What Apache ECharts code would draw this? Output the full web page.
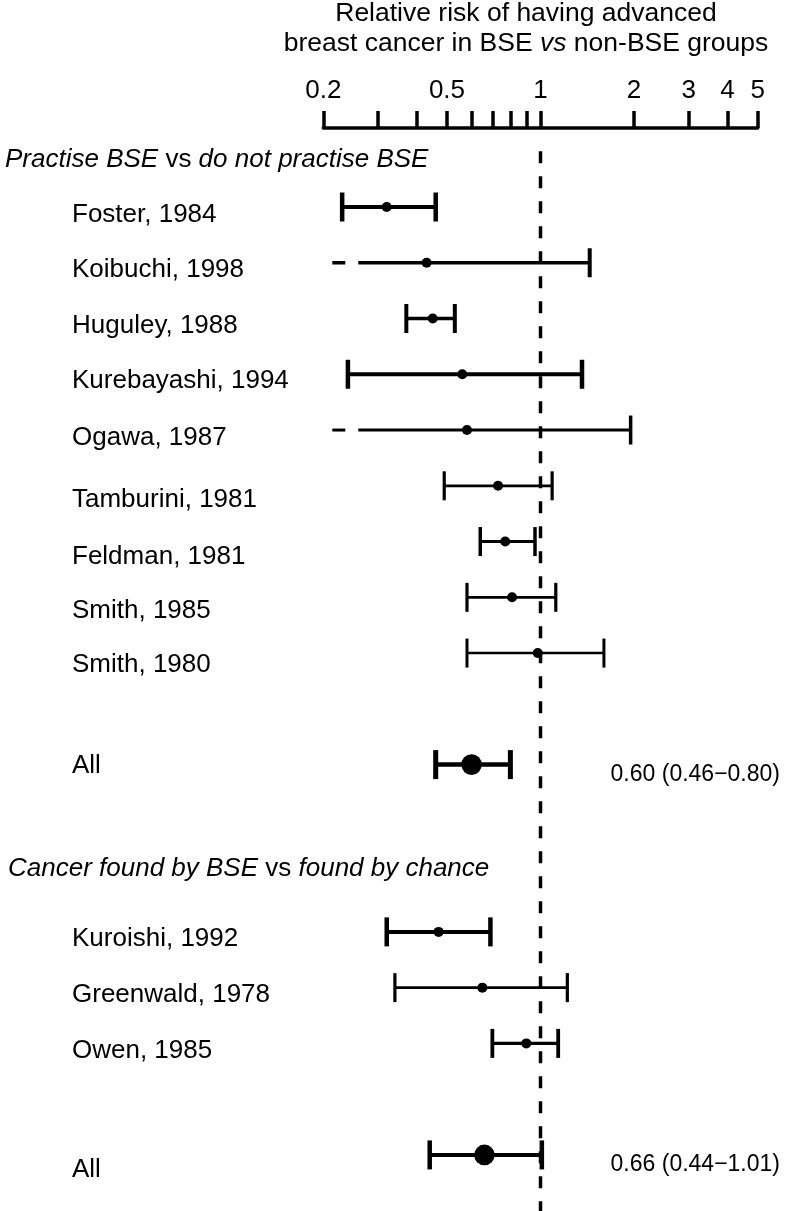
<!DOCTYPE html>
<html>
<head>
<meta charset="utf-8">
<script src="https://cdn.jsdelivr.net/npm/echarts@6/dist/echarts.min.js"></script>
<style>
html, body { margin: 0; padding: 0; background: #fff; }
#chart { width: 788px; height: 1211px; }
</style>
</head>
<body>
<div id="chart"></div>
<script>
// rows top to bottom, headings and blank spacer rows included
const categories = [
  "Practise BSE vs do not practise BSE",
  "Foster, 1984", "Koibuchi, 1998", "Huguley, 1988", "Kurebayashi, 1994", "Ogawa, 1987",
  "Tamburini, 1981", "Feldman, 1981", "Smith, 1985", "Smith, 1980",
  "", "All", "",
  "Cancer found by BSE vs found by chance",
  "Kuroishi, 1992", "Greenwald, 1978", "Owen, 1985",
  "", "All"
];
// relative risk and 95% CI (lower values under 0.2 run off the scale)
const estimate = [null, 0.32, 0.43, 0.45, 0.56, 0.58, 0.73, 0.77, 0.81, 0.98, null, 0.60, null, null, 0.47, 0.65, 0.90, null, 0.66];
const lower    = [null, 0.23, 0.15, 0.37, 0.24, 0.15, 0.49, 0.64, 0.58, 0.58, null, 0.46, null, null, 0.32, 0.34, 0.70, null, 0.44];
const upper    = [null, 0.46, 1.44, 0.53, 1.36, 1.95, 1.09, 0.96, 1.12, 1.60, null, 0.80, null, null, 0.69, 1.22, 1.14, null, 1.01];
const pooledRows = [11, 18];
const refValue = 1;
const tickValues = [0.2, 0.3, 0.4, 0.5, 0.6, 0.7, 0.8, 0.9, 1, 2, 3, 4, 5];
const tickLabels = [0.2, 0.5, 1, 2, 3, 4, 5];

// drawing style
const FONT = "'Liberation Sans', Arial, Helvetica, sans-serif";
const penWidth = [0, 4, 3.5, 3.5, 4, 3, 2.7, 3, 2.7, 2.5, 0, 4.5, 0, 0, 4, 2.7, 3.3, 0, 4];
const labelShift = [9, 8, 7, 7, 7, 8, 14, 15, 14, 12, 0, 1, 0, -7, 7, 7, 7, 0, 15];
const axisMin = 0.2, axisMax = 5;

const rich = {};
categories.forEach(function (c, i) {
  const s = labelShift[i];
  const pad = s >= 0 ? [2 * s, 0, 0, 0] : [0, 0, -2 * s, 0];
  const base = { fontFamily: FONT, fontSize: 26, color: '#000' };
  rich['a' + i] = Object.assign({}, base, { fontStyle: 'italic', padding: [pad[0], 0, pad[2], i === 0 ? 0 : 3] });
  rich['b' + i] = Object.assign({}, base, { padding: [pad[0], 0, pad[2], 0] });
  rich['c' + i] = Object.assign({}, base, { fontStyle: 'italic', padding: [pad[0], 0, pad[2], 0] });
  rich['r' + i] = Object.assign({}, base, { padding: [pad[0], 0, pad[2], 67] });
});

const rowData = [];
estimate.forEach(function (v, i) {
  if (v == null) return;
  rowData.push([v, i, lower[i], upper[i], pooledRows.indexOf(i) >= 0 ? 1 : 0]);
});

function seg(x1, y1, x2, y2, w) {
  return { type: 'line', shape: { x1: x1, y1: y1, x2: x2, y2: y2 }, style: { stroke: '#000', lineWidth: w, lineCap: 'butt' } };
}

const chart = echarts.init(document.getElementById('chart'));
chart.setOption({
  animation: false,
  backgroundColor: '#fff',
  grid: { left: 323.3, right: 30.3, top: 123.36, height: 55.76 * categories.length, containLabel: false },
  graphic: [{
    type: 'text', x: 526, y: 29,
    style: {
      text: '{t|Relative risk of having advanced}\n{t|breast cancer in BSE }{v|vs}{t| non-BSE groups}',
      align: 'center', verticalAlign: 'middle',
      rich: {
        t: { fontFamily: FONT, fontSize: 26.5, lineHeight: 30, fill: '#000' },
        v: { fontFamily: FONT, fontSize: 26.5, lineHeight: 30, fontStyle: 'italic', fill: '#000' }
      }
    }
  }],
  xAxis: {
    type: 'log', logBase: 10, min: axisMin, max: axisMax,
    position: 'top', offset: -4.64,
    axisLine: { show: true, lineStyle: { color: '#000', width: 3.5 } },
    axisTick: { show: true, customValues: tickValues, length: 17, lineStyle: { color: '#000', width: 3.5 } },
    axisLabel: {
      customValues: tickLabels, margin: 24,
      fontFamily: FONT, fontSize: 26, color: '#000',
      formatter: function (v) { return String(+Number(v).toPrecision(3)); }
    },
    splitLine: { show: false }
  },
  yAxis: {
    type: 'category', inverse: true, data: categories,
    axisLine: { show: false }, axisTick: { show: false }, splitLine: { show: false },
    axisLabel: {
      interval: 0, align: 'left', margin: 318.3,
      formatter: function (value, index) {
        if (!value) return '';
        if (value.indexOf(' vs ') >= 0) {
          const p = value.split(' vs ');
          return '{a' + index + '|' + p[0] + '}{b' + index + '| vs }{c' + index + '|' + p[1] + '}';
        }
        return '{r' + index + '|' + value + '}';
      },
      rich: rich
    }
  },
  series: [
    {
      type: 'custom', silent: true, z: 1,
      data: [[refValue, 0]], encode: { x: 0, y: 1 },
      renderItem: function (params, api) {
        const p = api.coord([api.value(0), api.value(1)]);
        return {
          type: 'line',
          shape: { x1: p[0], y1: p[1], x2: p[0], y2: api.getHeight() },
          style: { stroke: '#000', lineWidth: 3.5, lineDash: [12, 13] }
        };
      }
    },
    {
      type: 'custom', silent: true, z: 2,
      data: rowData, encode: { x: 0, y: 1 },
      renderItem: function (params, api) {
        const idx = api.value(1);
        const est = api.value(0), lo = api.value(2), hi = api.value(3);
        const isPooled = api.value(4) === 1;
        const pe = api.coord([est, idx]);
        const y = pe[1];
        const xh = api.coord([hi, idx])[0];
        const cs = params.coordSys;
        const w = penWidth[idx];
        const cap = 14.5;
        const kids = [];
        let xl;
        if (lo < axisMin) {
          // off-scale lower limit: broken line at the left
          kids.push(seg(cs.x + 9, y, cs.x + 22, y, w));
          xl = cs.x + 35;
        } else {
          xl = api.coord([lo, idx])[0];
          kids.push(seg(xl, y - cap, xl, y + cap, w + 0.5));
        }
        kids.push(seg(xl, y, xh, y, w));
        kids.push(seg(xh, y - cap, xh, y + cap, w + 0.5));
        kids.push({ type: 'circle', shape: { cx: pe[0], cy: y, r: isPooled ? 10.3 : 5 }, style: { fill: '#000' } });
        if (isPooled) {
          kids.push({
            type: 'text', x: api.getWidth() - 8, y: y + 10,
            style: {
              text: est.toFixed(2) + ' (' + lo.toFixed(2) + '\u2212' + hi.toFixed(2) + ')',
              align: 'right', verticalAlign: 'middle',
              fontFamily: FONT, fontSize: 23, fill: '#000'
            }
          });
        }
        return { type: 'group', children: kids };
      }
    }
  ]
});
</script>
</body>
</html>
